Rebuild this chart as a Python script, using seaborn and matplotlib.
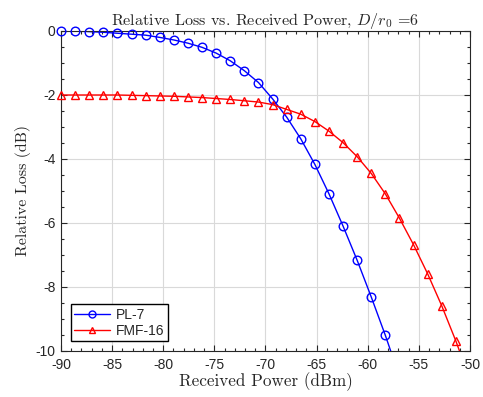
import numpy as np
import pandas as pd
import matplotlib
matplotlib.use("Agg")
import matplotlib.pyplot as plt
from matplotlib.lines import Line2D
from matplotlib.ticker import MultipleLocator
import seaborn as sns

# ---- data ----
received_power = [-90.0, -88.62, -87.24, -85.86, -84.48, -83.10, -81.72, -80.34,
                  -78.97, -77.59, -76.21, -74.83, -73.45, -72.07, -70.69, -69.31,
                  -67.93, -66.55, -65.17, -63.79, -62.41, -61.03, -59.66, -58.28,
                  -56.90, -55.52, -54.14, -52.76, -51.38, -50.0]
pl7_loss = [0.0, 0.0, -0.02, -0.04, -0.07, -0.10, -0.13, -0.20, -0.28, -0.38,
            -0.51, -0.69, -0.93, -1.24, -1.61, -2.12, -2.69, -3.37, -4.17, -5.09,
            -6.10, -7.17, -8.31, -9.51, -10.80, -12.2, -13.7, -15.3, -17.0, -18.8]
fmf16_loss = [-2.0, -2.0, -2.0, -2.0, -2.0, -2.01, -2.02, -2.03, -2.04, -2.06,
              -2.08, -2.11, -2.14, -2.18, -2.22, -2.30, -2.45, -2.60, -2.83, -3.13,
              -3.49, -3.93, -4.45, -5.09, -5.85, -6.68, -7.59, -8.59, -9.69, -10.9]
series_names = ["PL-7", "FMF-16"]
x_ticks = [-90, -85, -80, -75, -70, -65, -60, -55, -50]
y_ticks = [0, -2, -4, -6, -8, -10]

df = pd.concat([
    pd.DataFrame({"x": received_power, "y": pl7_loss, "s": series_names[0]}),
    pd.DataFrame({"x": received_power, "y": fmf16_loss, "s": series_names[1]}),
], ignore_index=True)

sns.set_style("ticks")
plt.rcParams["font.family"] = ["Liberation Sans", "DejaVu Sans"]
plt.rcParams["mathtext.fontset"] = "cm"
plt.rcParams["axes.unicode_minus"] = False

fig = plt.figure(figsize=(4.83, 3.97), dpi=100)
ax = fig.add_axes([61/483, 1-351/397, (470-61)/483, (351-31)/397])

palette = {"PL-7": (0, 0, 1), "FMF-16": (1, 0, 0)}
markers = {"PL-7": "o", "FMF-16": "^"}

sns.lineplot(data=df, x="x", y="y", hue="s", palette=palette, ax=ax,
             legend=False, linewidth=1.0, sort=False, estimator=None)

vis = df[df["y"] >= -10]
for name in series_names:
    sub = vis[vis["s"] == name]
    ax.plot(sub["x"], sub["y"], linestyle="none", marker=markers[name],
            markersize=6.2, markerfacecolor="none", markeredgecolor=palette[name],
            markeredgewidth=1.0, clip_on=False, zorder=4)

ax.set_xlim(-90, -50)
ax.set_ylim(-10, 0)
ax.set_xticks(x_ticks)
ax.set_yticks(y_ticks)
ax.set_xticklabels([str(t) for t in x_ticks])
ax.set_yticklabels([str(t) for t in y_ticks])
ax.xaxis.set_minor_locator(MultipleLocator(1))
ax.yaxis.set_minor_locator(MultipleLocator(0.5))
ax.tick_params(which="both", direction="in", top=True, right=True,
               colors=(0.15, 0.15, 0.15), labelcolor=(0.15, 0.15, 0.15),
               labelsize=10, width=0.8)
ax.tick_params(which="major", length=4)
ax.tick_params(which="minor", length=2)
ax.tick_params(axis="x", pad=5)
ax.tick_params(axis="y", pad=4)
ax.grid(True, which="major", color=(0.85, 0.85, 0.85), linewidth=0.8)
for sp in ax.spines.values():
    sp.set_visible(True)
    sp.set_color((0.15, 0.15, 0.15))
    sp.set_linewidth(0.8)

ax.set_title(r"Relative Loss vs. Received Power, $D/r_0$ =6",
             fontfamily="cmr10", fontsize=11.6, pad=3)
ax.set_xlabel("Received Power (dBm)", fontfamily="cmr10", fontsize=12.3, labelpad=0)
ax.set_ylabel("Relative Loss (dB)", fontfamily="cmr10", fontsize=11.5, labelpad=3)

handles = [Line2D([], [], color=palette[n], marker=markers[n], markersize=5,
                  markerfacecolor="none", linewidth=1.0) for n in series_names]
leg = ax.legend(handles, series_names, loc="lower left", fancybox=False,
                edgecolor="black", framealpha=1, fontsize=10,
                borderaxespad=0.7, handlelength=2.6, borderpad=0.25,
                labelspacing=0.15, handletextpad=0.4)
leg.get_frame().set_linewidth(1.0)

fig.savefig("out.png", dpi=100)
